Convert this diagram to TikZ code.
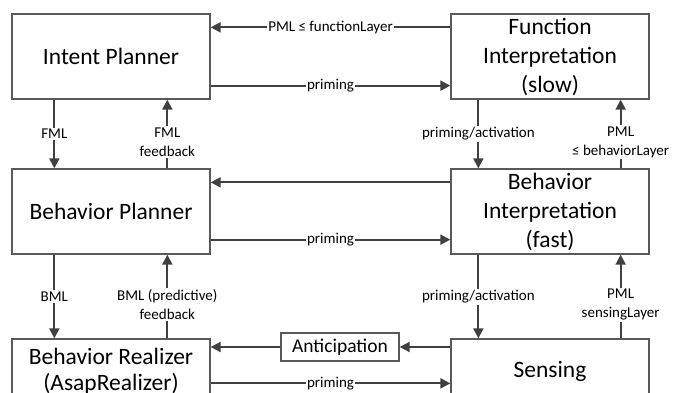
\documentclass[tikz,border=0pt]{standalone}
\usepackage{fontspec}
\setmainfont{Carlito}
\usetikzlibrary{arrows.meta}
\definecolor{boxline}{HTML}{595959}
\definecolor{arrline}{HTML}{404040}
\tikzset{
  mainbox/.style={draw=boxline, line width=1.3pt, rectangle, minimum width=198pt, inner sep=0pt,
    align=center, font=\fontsize{23.5}{29}\selectfont},
  smallbox/.style={draw=boxline, line width=1.3pt, rectangle, minimum width=118pt, minimum height=28pt,
    inner sep=0pt, font=\fontsize{19.5}{23}\selectfont},
  arr/.style={draw=arrline, line width=2pt, -{Triangle[length=10pt,width=10pt]}},
  lbl/.style={fill=white, inner sep=1.5pt, align=center, font=\fontsize{15}{19}\selectfont}
}
\begin{document}
\begin{tikzpicture}[x=1pt,y=-1pt]
\clip (0,0) rectangle (676,392);
\fill[white] (0,0) rectangle (676,392);
% boxes
\node[mainbox, minimum height=85pt] (ip) at (111,56.5) {Intent Planner};
\node[mainbox, minimum height=85pt] (fi) at (550,56.5) {Function\\Interpretation\\(slow)};
\node[mainbox, minimum height=85pt] (bp) at (111,211.5) {Behavior Planner};
\node[mainbox, minimum height=85pt] (bi) at (550,211.5) {Behavior\\Interpretation\\(fast)};
\node[mainbox, minimum height=64pt, font=\fontsize{23.5}{26}\selectfont] (br) at (111,371) {Behavior Realizer\\(AsapRealizer)};
\node[mainbox, minimum height=64pt] (sen) at (550,371) {Sensing};
\node[smallbox] (ant) at (340,347) {Anticipation};
% horizontal connectors, top row
\draw[arr] ([yshift=-14pt]fi.north west) -- node[lbl] {PML ≤ functionLayer} ([yshift=-14pt]ip.north east);
\draw[arr] ([yshift=14pt]ip.south east) -- node[lbl] {priming} ([yshift=14pt]fi.south west);
% middle row
\draw[arr] ([yshift=-14pt]bi.north west) -- ([yshift=-14pt]bp.north east);
\draw[arr] ([yshift=15pt]bp.south east) -- node[lbl] {priming} ([yshift=15pt]bi.south west);
% bottom row
\draw[arr] (sen.west |- ant.east) -- (ant.east);
\draw[arr] (ant.west) -- (br.east |- ant.west);
\draw[arr] ([yshift=-45pt]br.north east) -- node[lbl] {priming} ([yshift=-45pt]sen.north west);
% vertical connectors, upper gap
\draw[arr] ([xshift=43pt]ip.south west) -- node[lbl] {FML} ([xshift=43pt]bp.north west);
\draw[arr] ([xshift=156pt]bp.north west) -- node[lbl, pos=0.38] {FML\\feedback} ([xshift=156pt]ip.south west);
\draw[arr] ([xshift=28pt]fi.south west) -- node[lbl] {priming/activation} ([xshift=28pt]bi.north west);
\draw[arr] ([xshift=-29pt]bi.north east) -- node[lbl, pos=0.38] {PML\\≤ behaviorLayer} ([xshift=-29pt]fi.south east);
% vertical connectors, lower gap
\draw[arr] ([xshift=43pt]bp.south west) -- node[lbl] {BML} ([xshift=43pt]br.north west);
\draw[arr] ([xshift=156pt]br.north west) -- node[lbl, pos=0.4] {BML (predictive)\\feedback} ([xshift=156pt]bp.south west);
\draw[arr] ([xshift=28pt]bi.south west) -- node[lbl] {priming/activation} ([xshift=28pt]sen.north west);
\draw[arr] ([xshift=-29pt]sen.north east) -- node[lbl, pos=0.4] {PML\\sensingLayer} ([xshift=-29pt]bi.south east);
\end{tikzpicture}
\end{document}
